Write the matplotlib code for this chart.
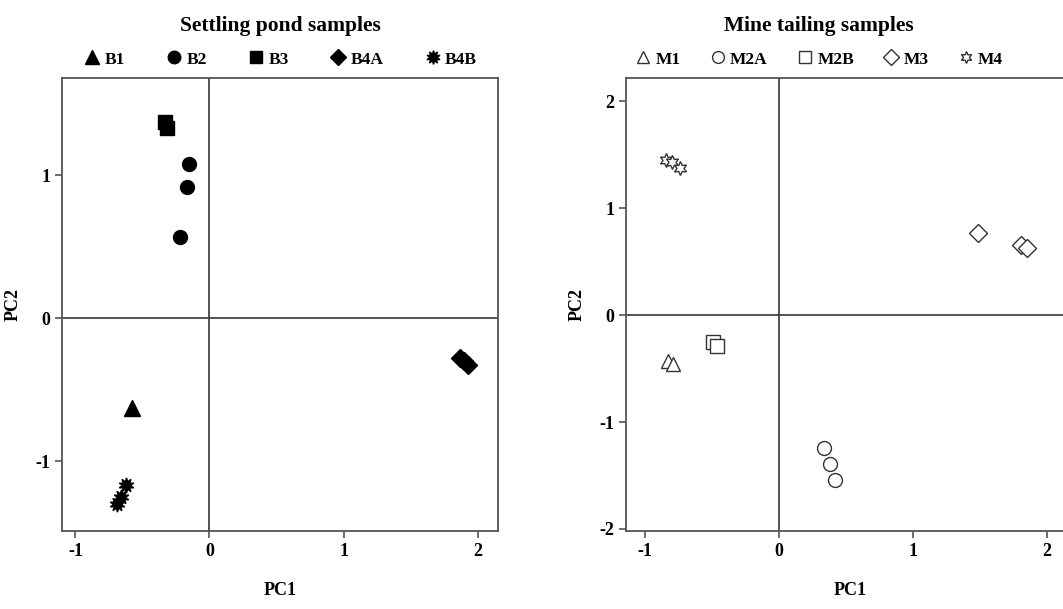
import matplotlib
matplotlib.use("Agg")
import matplotlib.pyplot as plt

plt.rcParams['font.family'] = ['Liberation Serif', 'DejaVu Serif']
plt.rcParams['font.weight'] = 'bold'
plt.rcParams['axes.unicode_minus'] = False

# --- data: settling pond samples (PC1, PC2) ---
b1_pc1 = [-0.58]
b1_pc2 = [-0.63]
b2_pc1 = [-0.15, -0.17, -0.22]
b2_pc2 = [1.08, 0.92, 0.57]
b3_pc1 = [-0.33, -0.32]
b3_pc2 = [1.37, 1.33]
b4a_pc1 = [1.87, 1.90, 1.93]
b4a_pc2 = [-0.28, -0.30, -0.33]
b4b_pc1 = [-0.62, -0.66, -0.69]
b4b_pc2 = [-1.17, -1.25, -1.30]

# --- data: mine tailing samples (PC1, PC2) ---
m1_pc1 = [-0.83, -0.79]
m1_pc2 = [-0.43, -0.46]
m2a_pc1 = [0.34, 0.38, 0.42]
m2a_pc2 = [-1.24, -1.39, -1.54]
m2b_pc1 = [-0.49, -0.46]
m2b_pc2 = [-0.25, -0.29]
m3_pc1 = [1.49, 1.81, 1.85]
m3_pc2 = [0.77, 0.66, 0.63]
m4_pc1 = [-0.84, -0.80, -0.74]
m4_pc2 = [1.45, 1.43, 1.38]

fig = plt.figure(figsize=(10.63, 6.09), dpi=100)
ax1 = fig.add_axes([0.0583, 0.128, 0.410, 0.744])
ax2 = fig.add_axes([0.589, 0.128, 0.421, 0.744])

spine_col = '#555555'

def style_axes(ax):
    for s in ax.spines.values():
        s.set_color(spine_col)
        s.set_linewidth(1.3)
    ax.tick_params(direction='out', length=5, width=1.2, color=spine_col,
                   labelsize=13, top=False, right=False)
    ax.axhline(0, color='#444444', lw=1.3, zorder=1)
    ax.axvline(0, color='#444444', lw=1.3, zorder=1)
    ax.set_xlabel('PC1', fontsize=13, fontweight='bold', labelpad=16)
    ax.set_ylabel('PC2', fontsize=13, fontweight='bold', labelpad=10)
    for lab in ax.get_xticklabels() + ax.get_yticklabels():
        lab.set_fontweight('bold')

# Left: settling pond
ax1.plot(b1_pc1, b1_pc2, '^', color='black', ms=11, ls='none', label='B1')
ax1.plot(b2_pc1, b2_pc2, 'o', color='black', ms=10, ls='none', label='B2')
ax1.plot(b3_pc1, b3_pc2, 's', color='black', ms=10, ls='none', label='B3')
ax1.plot(b4a_pc1, b4a_pc2, 'D', color='black', ms=9, ls='none', label='B4A')
ax1.plot(b4b_pc1, b4b_pc2, marker=(10, 1, 0), color='black', ms=11, ls='none', label='B4B')
ax1.set_xlim(-1.1, 2.15)
ax1.set_ylim(-1.49, 1.68)
ax1.set_xticks([-1, 0, 1, 2])
ax1.set_yticks([-1, 0, 1])
style_axes(ax1)
ax1.set_title('Settling pond samples', fontsize=15.5, fontweight='bold', pad=34)
ax1.legend(loc='lower center', bbox_to_anchor=(0.5, 1.0), ncol=5, frameon=False,
           prop={'weight': 'bold', 'size': 12.5}, handletextpad=0.15,
           columnspacing=2.3, borderaxespad=0.2, handlelength=1.1, markerscale=0.9)

# Right: mine tailing
oc = '#333333'
kw = dict(color=oc, mfc='white', mec=oc, mew=1.0, ls='none')
ax2.plot(m1_pc1, m1_pc2, '^', ms=10, label='M1', **kw)
ax2.plot(m2a_pc1, m2a_pc2, 'o', ms=10, label='M2A', **kw)
ax2.plot(m2b_pc1, m2b_pc2, 's', ms=10, label='M2B', **kw)
ax2.plot(m3_pc1, m3_pc2, 'D', ms=9, label='M3', **kw)
ax2.plot(m4_pc1, m4_pc2, marker=(6, 1, 0), ms=10, label='M4', **kw)
ax2.set_xlim(-1.14, 2.2)
ax2.set_ylim(-2.02, 2.22)
ax2.set_xticks([-1, 0, 1, 2])
ax2.set_yticks([-2, -1, 0, 1, 2])
style_axes(ax2)
ax2.set_title('Mine tailing samples', fontsize=15.5, fontweight='bold', pad=34, x=0.43)
ax2.legend(loc='lower center', bbox_to_anchor=(0.43, 1.0), ncol=5, frameon=False,
           prop={'weight': 'bold', 'size': 12.5}, handletextpad=0.15,
           columnspacing=1.6, borderaxespad=0.2, handlelength=1.1, markerscale=0.85)

fig.savefig('out.png', dpi=100)
